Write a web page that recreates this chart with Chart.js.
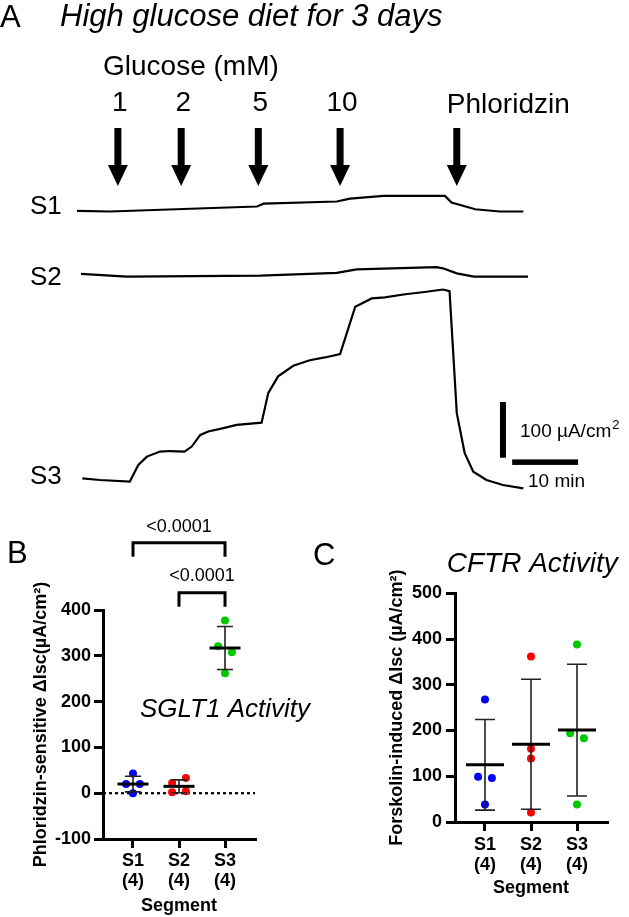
<!DOCTYPE html>
<html>
<head>
<meta charset="utf-8">
<script src="https://cdn.jsdelivr.net/npm/chart.js@4.4.1/dist/chart.umd.min.js"></script>
<style>
  html, body { margin: 0; padding: 0; background: #fff; }
  #wrap { position: relative; width: 629px; height: 917px; overflow: hidden; }
  canvas { position: absolute; }
</style>
</head>
<body>
<div id="wrap">
  <canvas id="traceChart" width="629" height="500" style="left:0;top:0"></canvas>
  <canvas id="sgltChart" width="320" height="417" style="left:0;top:500px"></canvas>
  <canvas id="cftrChart" width="329" height="417" style="left:300px;top:500px"></canvas>
</div>
<script>
const FONT = "'Liberation Sans', Arial, Helvetica, sans-serif";
Chart.defaults.font.family = FONT;
Chart.defaults.color = '#000';

/* =========================
   DATA - panel A (Isc traces, min / uA/cm2)
========================= */
const traceNames = ['S1', 'S2', 'S3'];

const timeS1 = [0, 5.0, 27.3, 28.3, 39.4, 41.4, 46.5, 55.8, 56.8, 60.4, 64.1, 67.7];
const iscS1  = [0, -1, 8, 13, 17, 22, 27, 27, 15, 3, -1, -1];

const timeS2 = [0.6, 7.6, 27.8, 39.4, 42.4, 54.5, 55.5, 57.6, 60.2, 68.4];
const iscS2  = [0, -5, -3, 2, 8, 12, 10, 1, -5, -5];

const timeS3 = [0.8, 3.5, 8.0, 9.3, 10.6, 12.6, 14.1, 16.3, 17.4, 18.7, 19.9, 22.2, 24.2, 28.0,
                29.0, 30.5, 32.8, 35.3, 37.6, 39.9, 42.2, 44.7, 46.7, 49.5, 53.0, 55.5, 56.5,
                57.6, 58.8, 60.1, 62.1, 64.6, 67.7];
const iscS3  = [3, 0, -3, 27, 42, 51, 52, 51, 60, 81, 87, 93, 99, 103,
                156, 186, 205, 215, 220, 226, 311, 326, 328, 333, 338, 342, 339,
                120, 48, 15, 0, -9, -15];

const glucoseSteps = ['1', '2', '5', '10'];
const glucoseTimes = [6.2, 15.8, 27.5, 39.9];
const phloridzinTime = 57.6;
const scaleBarIsc = 100;   // uA/cm2
const scaleBarMin = 10;    // min

/* =========================
   DATA - panels B and C
========================= */
const segments = ['S1', 'S2', 'S3'];
const nPerSegment = [4, 4, 4];

const sgltS1 = [43, 20, 20, 0];
const sgltS2 = [22, 33, 2, 4];
const sgltS3 = [377, 321, 308, 262];
const sgltMean = [20, 15, 317];
const sgltSD = [17, 14, 47];
const sgltPValues = ['<0.0001', '<0.0001'];   // S1 vs S3, S2 vs S3

const cftrS1 = [268, 99, 96, 38];
const cftrS2 = [362, 160, 139, 21];
const cftrS3 = [388, 194, 183, 38];
const cftrMean = [125, 170, 201];
const cftrSD = [99, 142, 144];

const groupColors = ['#0000ff', '#ff0000', '#00c800'];

/* =========================
   PANEL A
========================= */
const traceOffsets = [483, 370, 0];
const traceLabelY = [207, 278, 477];

function drawArrow(ctx, px) {
    ctx.fillRect(px - 3.5, 128, 7, 40);
    ctx.beginPath();
    ctx.moveTo(px - 10, 165);
    ctx.lineTo(px + 10, 165);
    ctx.lineTo(px, 186);
    ctx.closePath();
    ctx.fill();
}

const traceDecor = {
    id: 'traceDecor',
    afterDraw(chart) {
        const { ctx, scales: { x, y } } = chart;
        ctx.save();
        ctx.fillStyle = '#000';
        ctx.textBaseline = 'alphabetic';

        ctx.font = `31px ${FONT}`;
        ctx.fillText('A', 0, 27);
        ctx.font = `italic 31px ${FONT}`;
        ctx.fillText('High glucose diet for 3 days', 60, 26);

        ctx.font = `28px ${FONT}`;
        ctx.fillText('Glucose (mM)', 103, 75);
        ctx.textAlign = 'center';
        glucoseTimes.forEach((t, i) => {
            const px = x.getPixelForValue(t);
            ctx.fillText(glucoseSteps[i], px + 2, 111);
            drawArrow(ctx, px);
        });
        const pp = x.getPixelForValue(phloridzinTime);
        ctx.textAlign = 'left';
        ctx.fillText('Phloridzin', pp - 10, 113);
        drawArrow(ctx, pp);

        // trace names
        ctx.font = `26px ${FONT}`;
        ctx.textBaseline = 'middle';
        traceNames.forEach((n, i) => ctx.fillText(n, 30, traceLabelY[i]));

        // scale bars
        const bx = x.getPixelForValue(64.6);
        const yb0 = y.getPixelForValue(40);
        const yb1 = y.getPixelForValue(40 + scaleBarIsc);
        ctx.fillRect(bx - 3, yb1, 6, yb0 - yb1);
        const hx0 = x.getPixelForValue(66);
        const hx1 = x.getPixelForValue(66 + scaleBarMin);
        const hy = y.getPixelForValue(32);
        ctx.fillRect(hx0, hy - 2.75, hx1 - hx0, 5.5);

        ctx.textBaseline = 'alphabetic';
        ctx.font = `19px ${FONT}`;
        const unit = scaleBarIsc + ' µA/cm';
        ctx.fillText(unit, 520, 437);
        const w = ctx.measureText(unit).width;
        ctx.font = `13px ${FONT}`;
        ctx.fillText('2', 520 + w + 1, 429);
        ctx.font = `19px ${FONT}`;
        ctx.fillText(scaleBarMin + ' min', 528, 487);
        ctx.restore();
    }
};

const traceTimes = [timeS1, timeS2, timeS3];
const traceIsc = [iscS1, iscS2, iscS3];

new Chart(document.getElementById('traceChart'), {
    type: 'line',
    data: {
        datasets: traceNames.map((name, i) => ({
            label: name,
            data: traceTimes[i].map((t, k) => ({ x: t, y: traceOffsets[i] + traceIsc[i][k] })),
            borderColor: '#000',
            borderWidth: 2.2,
            pointRadius: 0,
            tension: 0,
            fill: false
        }))
    },
    options: {
        responsive: false,
        animation: false,
        layout: { padding: { left: 77, right: 101, top: 162.5, bottom: 3.3 } },
        plugins: { legend: { display: false }, tooltip: { enabled: false } },
        scales: {
            x: { type: 'linear', display: false, min: 0, max: 68.4 },
            y: { type: 'linear', display: false, min: -30, max: 570 }
        }
    },
    plugins: [traceDecor]
});

/* =========================
   DOT PLOTS (B, C)
========================= */

// spread points that would overlap, like GraphPad's scatter
function dodge(values, closeGap, step) {
    const order = values.map((v, i) => i).sort((a, b) => values[b] - values[a]);
    const off = values.map(() => 0);
    let k = 0;
    while (k < order.length) {
        let j = k;
        while (j + 1 < order.length && values[order[j]] - values[order[j + 1]] < closeGap) j++;
        const cluster = order.slice(k, j + 1).sort((a, b) => a - b);
        cluster.forEach((idx, m) => { off[idx] = (m - (cluster.length - 1) / 2) * 2 * step; });
        k = j + 1;
    }
    return off;
}

function makeDotPlot(canvasId, groups, means, sds, cfg) {
    const closeGap = (cfg.yMax - cfg.yMin) * 0.035;

    const errorBars = {
        id: 'errorBars',
        beforeDatasetsDraw(chart) {
            if (cfg.beforeDraw) cfg.beforeDraw(chart);
        },
        afterDatasetsDraw(chart) {
            const { ctx, scales: { x, y } } = chart;
            ctx.save();
            means.forEach((m, i) => {
                const cx = x.getPixelForValue(i + 1);
                const yHi = y.getPixelForValue(m + sds[i]);
                const yLo = y.getPixelForValue(m - sds[i]);
                const yM = y.getPixelForValue(m);
                ctx.strokeStyle = '#222';
                ctx.lineWidth = 1.6;
                ctx.beginPath();
                ctx.moveTo(cx, yHi); ctx.lineTo(cx, yLo);
                ctx.moveTo(cx - cfg.capHalf, yHi); ctx.lineTo(cx + cfg.capHalf, yHi);
                ctx.moveTo(cx - cfg.capHalf, yLo); ctx.lineTo(cx + cfg.capHalf, yLo);
                ctx.stroke();
                ctx.strokeStyle = '#000';
                ctx.lineWidth = 3;
                ctx.beginPath();
                ctx.moveTo(cx - cfg.meanHalf, yM); ctx.lineTo(cx + cfg.meanHalf, yM);
                ctx.stroke();
            });
            ctx.restore();
        },
        afterDraw(chart) {
            if (cfg.decor) cfg.decor(chart);
        }
    };

    return new Chart(document.getElementById(canvasId), {
        type: 'scatter',
        data: {
            datasets: groups.map((vals, i) => {
                const off = dodge(vals, closeGap, 0.15);
                return {
                    label: segments[i],
                    data: vals.map((v, k) => ({ x: i + 1 + off[k], y: v })),
                    backgroundColor: groupColors[i],
                    borderWidth: 0,
                    pointRadius: 4,
                    pointHoverRadius: 4
                };
            })
        },
        options: {
            responsive: false,
            animation: false,
            layout: { padding: cfg.padding },
            plugins: { legend: { display: false }, tooltip: { enabled: false } },
            scales: {
                x: {
                    type: 'linear',
                    min: 1 - 0.652,
                    max: 3 + 0.652,
                    afterBuildTicks: s => { s.ticks = segments.map((c, i) => ({ value: i + 1 })); },
                    afterFit: s => { s.height = cfg.xAxisHeight; },
                    grid: { drawOnChartArea: false, drawTicks: true, tickLength: 9, color: '#000', lineWidth: 3 },
                    border: { display: true, color: '#000', width: 3 },
                    ticks: {
                        padding: cfg.xTickPad,
                        font: { size: 18, weight: 'bold', lineHeight: 1.12 },
                        callback: (v, idx) => [segments[idx], '(' + nPerSegment[idx] + ')']
                    },
                    title: {
                        display: true,
                        text: 'Segment',
                        font: { size: 18, weight: 'bold' },
                        padding: { top: 4, bottom: 0 }
                    }
                },
                y: {
                    min: cfg.yMin,
                    max: cfg.yMax,
                    afterFit: s => { s.width = cfg.yAxisWidth; },
                    grid: { drawOnChartArea: false, drawTicks: true, tickLength: 9, color: '#000', lineWidth: 3 },
                    border: { display: true, color: '#000', width: 3 },
                    ticks: { stepSize: 100, padding: cfg.yTickPad, font: { size: 18, weight: 'bold' } },
                    title: {
                        display: true,
                        text: cfg.yTitle,
                        font: { size: 18, weight: 'bold' },
                        padding: { top: 4, bottom: 0 }
                    }
                }
            }
        },
        plugins: [errorBars]
    });
}

/* ---------- Panel B: SGLT1 ---------- */
function drawBracket(ctx, x1, x2, yTop, legLen) {
    ctx.beginPath();
    ctx.moveTo(x1, yTop + legLen);
    ctx.lineTo(x1, yTop);
    ctx.lineTo(x2, yTop);
    ctx.lineTo(x2, yTop + legLen);
    ctx.stroke();
}

makeDotPlot('sgltChart', [sgltS1, sgltS2, sgltS3], sgltMean, sgltSD, {
    yMin: -100, yMax: 400,
    yTitle: 'Phloridzin-sensitive ΔIsc(µA/cm²)',
    padding: { left: 26, right: 65, top: 110, bottom: 0 },
    yAxisWidth: 77, xAxisHeight: 78,
    xTickPad: 3, yTickPad: 3,
    meanHalf: 15.5, capHalf: 8,
    beforeDraw(chart) {
        const { ctx, chartArea, scales: { y } } = chart;
        const y0 = y.getPixelForValue(0);
        ctx.save();
        ctx.strokeStyle = '#000';
        ctx.lineWidth = 2.2;
        ctx.setLineDash([3, 3]);
        ctx.beginPath();
        ctx.moveTo(chartArea.left, y0);
        ctx.lineTo(chartArea.right, y0);
        ctx.stroke();
        ctx.restore();
    },
    decor(chart) {
        const { ctx, scales: { x } } = chart;
        ctx.save();
        ctx.fillStyle = '#000';
        ctx.strokeStyle = '#000';
        ctx.font = `31px ${FONT}`;
        ctx.fillText('B', 7, 63);

        ctx.lineWidth = 3;
        const p1 = x.getPixelForValue(1), p2 = x.getPixelForValue(2), p3 = x.getPixelForValue(3);
        drawBracket(ctx, p1, p3, 42.7, 14);
        drawBracket(ctx, p2, p3, 92.7, 14);
        ctx.font = `18px ${FONT}`;
        ctx.textAlign = 'center';
        ctx.fillText(sgltPValues[0], (p1 + p3) / 2, 31.5);
        ctx.fillText(sgltPValues[1], (p2 + p3) / 2, 81);

        ctx.textAlign = 'left';
        ctx.font = `italic 26px ${FONT}`;
        ctx.fillText('SGLT1 Activity', 140, 216.5);
        ctx.restore();
    }
});

/* ---------- Panel C: CFTR ---------- */
makeDotPlot('cftrChart', [cftrS1, cftrS2, cftrS3], cftrMean, cftrSD, {
    yMin: 0, yMax: 500,
    yTitle: 'Forskolin-induced ΔIsc (µA/cm²)',
    padding: { left: 82, right: 22, top: 93.3, bottom: 18 },
    yAxisWidth: 73, xAxisHeight: 77,
    xTickPad: 4, yTickPad: 4,
    meanHalf: 19, capHalf: 10,
    decor(chart) {
        const { ctx } = chart;
        ctx.save();
        ctx.fillStyle = '#000';
        ctx.font = `31px ${FONT}`;
        ctx.fillText('C', 13, 65);
        ctx.font = `italic 28px ${FONT}`;
        ctx.fillText('CFTR Activity', 146.7, 71.7);
        ctx.restore();
    }
});
</script>
</body>
</html>
